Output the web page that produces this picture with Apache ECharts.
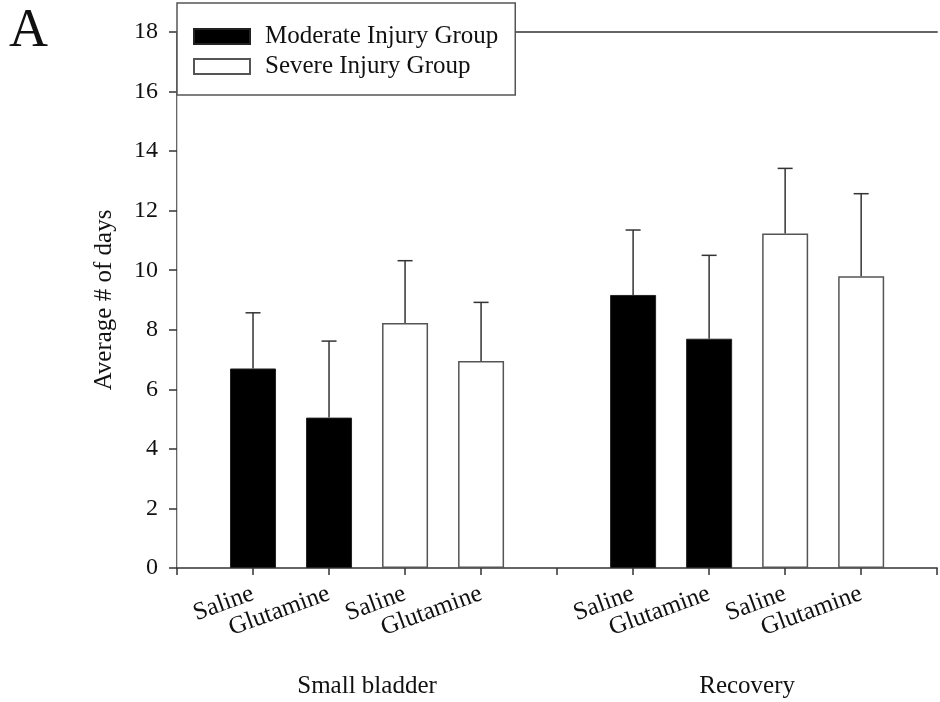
<!DOCTYPE html>
<html>
<head>
<meta charset="utf-8">
<title>Average # of days</title>
<script src="https://cdn.jsdelivr.net/npm/echarts@6/dist/echarts.min.js"></script>
<style>
  html, body { margin: 0; padding: 0; background: #fff; }
  #chart { width: 940px; height: 702px; }
</style>
</head>
<body>
<div id="chart"></div>
<script>
// Bar positions on the x scale (0..10), one tick per unit
const moderateX = [1, 2, 6, 7];
const severeX = [3, 4, 8, 9];

// Mean number of days and standard deviation (upper bar only)
const moderateMean = [6.70, 5.05, 9.17, 7.70];
const moderateSD   = [1.87, 2.57, 2.18, 2.80];
const severeMean   = [8.23, 6.95, 11.23, 9.80];
const severeSD     = [2.09, 1.97, 2.19, 2.77];

// Treatment label under each tick, indexed by x value
const tickLabels = ['', 'Saline', 'Glutamine', 'Saline', 'Glutamine', '',
                    'Saline', 'Glutamine', 'Saline', 'Glutamine', ''];
// Outcome groups, centred under each half of the axis
const groupNames = ['Small bladder', 'Recovery'];
const seriesNames = ['Moderate Injury Group', 'Severe Injury Group'];

const FONT = 'Liberation Serif';
const AXIS = '#333';

const pairs = (xs, ys) => xs.map((x, i) => [x, ys[i]]);
const errRows = (xs, ms, sds) => xs.map((x, i) => [x, ms[i], ms[i] + sds[i]]);

const chart = echarts.init(document.getElementById('chart'), null, { renderer: 'canvas' });

chart.setOption({
  animation: false,
  backgroundColor: '#fff',
  textStyle: { fontFamily: FONT },
  graphic: [{
    type: 'text',
    left: 9,
    top: 5,
    style: { text: 'A', font: '54px "Liberation Serif"', fill: '#111' }
  }],
  legend: {
    data: seriesNames,
    orient: 'vertical',
    left: 177,
    top: 3,
    padding: [21, 17, 16, 16],
    itemWidth: 56,
    itemHeight: 15,
    itemGap: 5,
    icon: 'rect',
    backgroundColor: '#fff',
    borderColor: '#555',
    borderWidth: 1.5,
    textStyle: { fontFamily: FONT, fontSize: 25, color: '#111', padding: [0, 0, 0, 10] }
  },
  grid: { left: 177, right: 1, top: 32, bottom: 134, containLabel: false },
  xAxis: [
    {
      type: 'value',
      position: 'bottom',
      min: 0, max: 10, interval: 1,
      splitLine: { show: false },
      axisLine: { lineStyle: { color: AXIS, width: 1.5 } },
      axisTick: { length: 7, lineStyle: { color: AXIS, width: 1.5 } },
      axisLabel: {
        rotate: 20,
        margin: 25,
        fontFamily: FONT,
        fontSize: 25,
        color: '#111',
        showMinLabel: true,
        showMaxLabel: true,
        formatter: v => tickLabels[Math.round(v)] || ''
      }
    },
    {
      type: 'category',
      position: 'bottom',
      data: groupNames,
      axisLine: { show: false },
      axisTick: { show: false },
      axisLabel: { margin: 106, fontFamily: FONT, fontSize: 25, color: '#111' }
    },
    {
      type: 'value',
      position: 'top',
      min: 0, max: 10,
      splitLine: { show: false },
      axisLine: { show: true, lineStyle: { color: AXIS, width: 1.5 } },
      axisTick: { show: false },
      axisLabel: { show: false }
    }
  ],
  yAxis: [
    {
      type: 'value',
      min: 0, max: 18, interval: 2,
      name: 'Average # of days',
      nameLocation: 'middle',
      nameGap: 60,
      nameTextStyle: { fontFamily: FONT, fontSize: 25, color: '#111' },
      splitLine: { show: false },
      axisLine: { show: true, lineStyle: { color: AXIS, width: 1.5 } },
      axisTick: { show: true, length: 8, lineStyle: { color: AXIS, width: 1.5 } },
      axisLabel: { margin: 19, fontFamily: FONT, fontSize: 24, color: '#111' }
    },
    {
      type: 'value',
      position: 'right',
      min: 0, max: 18,
      splitLine: { show: false },
      axisLine: { show: true, lineStyle: { color: '#d0d0d0', width: 1 } },
      axisTick: { show: false },
      axisLabel: { show: false }
    }
  ],
  series: [
    {
      name: seriesNames[0],
      type: 'bar',
      xAxisIndex: 0,
      yAxisIndex: 0,
      barWidth: 46,
      barGap: '-100%',
      data: pairs(moderateX, moderateMean),
      itemStyle: { color: '#000', borderColor: '#222', borderWidth: 1 },
      z: 2
    },
    {
      name: seriesNames[1],
      type: 'bar',
      xAxisIndex: 0,
      yAxisIndex: 0,
      barWidth: 46,
      barGap: '-100%',
      data: pairs(severeX, severeMean),
      itemStyle: { color: '#fff', borderColor: '#555', borderWidth: 1.5 },
      z: 2
    },
    {
      name: 'errors',
      type: 'custom',
      xAxisIndex: 0,
      yAxisIndex: 0,
      z: 3,
      data: errRows(moderateX, moderateMean, moderateSD)
              .concat(errRows(severeX, severeMean, severeSD)),
      encode: { x: 0, y: [1, 2] },
      renderItem: function (params, api) {
        const base = api.coord([api.value(0), api.value(1)]);
        const top = api.coord([api.value(0), api.value(2)]);
        const half = 7.5;
        const style = { stroke: '#333', lineWidth: 1.5 };
        return {
          type: 'group',
          children: [
            { type: 'line', shape: { x1: base[0], y1: base[1], x2: top[0], y2: top[1] }, style: style },
            { type: 'line', shape: { x1: top[0] - half, y1: top[1], x2: top[0] + half, y2: top[1] }, style: style }
          ]
        };
      }
    }
  ]
});
</script>
</body>
</html>
